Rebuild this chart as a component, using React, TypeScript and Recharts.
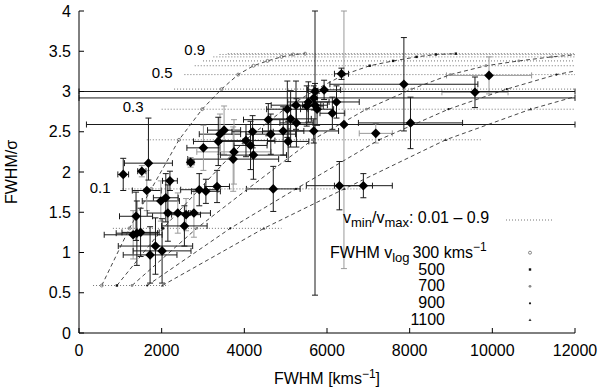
import React from 'react';
import { ComposedChart, Scatter, XAxis, YAxis, ErrorBar, ReferenceLine, ReferenceDot } from 'recharts';

const FONT = '"Liberation Sans", Arial, Helvetica, sans-serif';

// axis ticks
const xTicks = [0, 2000, 4000, 6000, 8000, 10000, 12000];
const yTicks = [0, 0.5, 1, 1.5, 2, 2.5, 3, 3.5, 4];

// FWHM/sigma levels for vmin/vmax steps (0.01 ... 0.9)
const levels = [0.59, 1.30, 1.79, 2.40, 2.78, 3.03, 3.21, 3.32, 3.38, 3.43, 3.46, 3.47];
// FWHM positions of the model markers for each v_log curve
const curve300X = [550, 1220, 1750, 2420, 2980, 3450, 3850, 4220, 4560, 4900, 5180, 5470];
const curve500X = [917, 2033, 2917, 4033, 4967, 5750, 6417, 7033, 7600, 8167, 8633, 9117];
const curve700X = [1283, 2847, 4083, 5647, 6953, 8050, 8983, 9847, 10640, 11433, 12087];
const curve900X = [1650, 3660, 5250, 7260, 8940, 10350, 11550, 12660];
const curve1100X = [2017, 4473, 6417, 8873, 10927, 12650];

// dotted horizontal lines (vmin/vmax levels)
const dottedFrom = [340, 820, 1050, 1640, 2000, 2300, 2550, 2800, 3000, 3250, 3400, 3600];
const dottedTo = [2160, 4900, 6900, 9740, 12000, 12000, 12000, 12000, 12000, 12000, 12000, 12000];

// observed points: black x error / black y error (errors as [minus, plus], cut at the frame)
const pointsBB = [
  { x: 1070, y: 1.97, ex: 130, ey: 0.2 },
  { x: 1680, y: 2.11, ex: 580, ey: [0.21, 0.56] },
  { x: 2200, y: 1.89, ex: 180, ey: 0.12 },
  { x: 2910, y: 1.78, ex: 450, ey: 0.2 },
  { x: 3070, y: 1.76, ex: 350, ey: 0.15 },
  { x: 3340, y: 1.82, ex: 300, ey: 0.2 },
  { x: 2100, y: 1.68, ex: 300, ey: 0.3 },
  { x: 2150, y: 1.49, ex: 500, ey: 0.35 },
  { x: 1380, y: 1.45, ex: 400, ey: 0.3 },
  { x: 2550, y: 1.33, ex: 550, ey: 0.25 },
  { x: 1400, y: 1.24, ex: 500, ey: 0.4 },
  { x: 1490, y: 1.25, ex: 450, ey: 0.3 },
  { x: 1850, y: 1.08, ex: 900, ey: 0.35 },
  { x: 2010, y: 1.02, ex: 700, ey: 0.4 },
  { x: 1720, y: 0.97, ex: 650, ey: 0.35 },
  { x: 4700, y: 1.79, ex: 650, ey: 0.28 },
  { x: 6300, y: 1.83, ex: 800, ey: 0.3 },
  { x: 6880, y: 1.83, ex: 700, ey: 0.15 },
  { x: 6350, y: 3.22, ex: 170, ey: 0.07 },
  { x: 5710, y: 3.0, ex: [5710, 6290], ey: 0.1 },
  { x: 5930, y: 3.02, ex: 400, ey: 0.12 },
  { x: 5680, y: 2.92, ex: [5680, 6320], ey: 0.15 },
  { x: 6230, y: 2.87, ex: 550, ey: 0.2 },
  { x: 5550, y: 2.87, ex: 500, ey: 0.25 },
  { x: 5250, y: 2.83, ex: 600, ey: 0.3 },
  { x: 5040, y: 2.78, ex: 500, ey: 0.35 },
  { x: 5510, y: 2.82, ex: 400, ey: 0.25 },
  { x: 5710, y: 2.83, ex: 300, ey: [2.36, 1.17] },
  { x: 5760, y: 2.78, ex: 400, ey: 0.2 },
  { x: 6130, y: 2.73, ex: 300, ey: 0.2 },
  { x: 4580, y: 2.65, ex: 600, ey: 0.2 },
  { x: 5120, y: 2.66, ex: 500, ey: 0.35 },
  { x: 5260, y: 2.61, ex: 400, ey: 0.3 },
  { x: 5680, y: 2.51, ex: 600, ey: 0.15 },
  { x: 4940, y: 2.51, ex: 500, ey: 0.3 },
  { x: 4640, y: 2.47, ex: 600, ey: 0.25 },
  { x: 4200, y: 2.5, ex: 500, ey: 0.2 },
  { x: 3370, y: 2.38, ex: 600, ey: 0.3 },
  { x: 4040, y: 2.39, ex: 700, ey: 0.2 },
  { x: 4150, y: 2.33, ex: 400, ey: 0.3 },
  { x: 5060, y: 2.38, ex: 500, ey: 0.25 },
  { x: 4220, y: 2.21, ex: 800, ey: 0.3 },
  { x: 7860, y: 3.09, ex: 1790, ey: 0.58 },
  { x: 8020, y: 2.61, ex: 1260, ey: 0.32 },
];
// black x error / grey y error
const pointsBG = [
  { x: 1520, y: 2.01, ex: 100, ey: 0.07 },
  { x: 2700, y: 2.12, ex: 80, ey: 0.06 },
  { x: 3010, y: 2.3, ex: 400, ey: 0.28 },
  { x: 1640, y: 1.77, ex: 350, ey: 0.25 },
  { x: 1980, y: 1.64, ex: 450, ey: 0.25 },
  { x: 2390, y: 1.49, ex: 300, ey: 0.25 },
  { x: 2590, y: 1.47, ex: 350, ey: 0.2 },
  { x: 2780, y: 1.49, ex: 400, ey: 0.3 },
  { x: 1310, y: 1.22, ex: 700, ey: 0.3 },
  { x: 6410, y: 2.59, ex: [6230, 5590], ey: [1.79, 1.41] },
  { x: 3510, y: 2.52, ex: 400, ey: 0.3 },
  { x: 3410, y: 2.47, ex: 500, ey: 0.25 },
  { x: 3730, y: 2.16, ex: 1100, ey: 0.4 },
];
// grey x error / grey y error
const pointsGG = [
  { x: 3750, y: 2.25, ex: 900, ey: 0.4 },
  { x: 9920, y: 3.2, ex: 1030, ey: 0.23 },
  { x: 7180, y: 2.48, ex: 400, ey: 0.12 },
];
// grey x error / black y error
const pointsGB = [{ x: 9580, y: 2.99, ex: 800, ey: 0.19 }];

// curve labels (vmin/vmax)
const curveLabels = [
  { text: '0.9', x: 2548, y: 3.453 },
  { text: '0.5', x: 1759, y: 3.164 },
  { text: '0.3', x: 1057, y: 2.742 },
  { text: '0.1', x: 259, y: 1.735 },
];

const PL = 79, PR = 575, PT = 11, PB = 333;
const BLACK = '#1a1a1a';
const GREY = '#9a9a9a';

const toPts = (xs: number[]) => xs.map((x, i) => ({ x, y: levels[i] }));
const c300 = toPts(curve300X);
const c500 = toPts(curve500X);
const c700 = toPts(curve700X);
const c900 = toPts(curve900X);
const c1100 = toPts(curve1100X);

const Diamond = (p: any) => {
  const { cx, cy } = p;
  const r = 4.8;
  return <polygon points={`${cx},${cy - r} ${cx + r},${cy} ${cx},${cy + r} ${cx - r},${cy}`} fill="#000" />;
};
const M300 = (p: any) => <circle cx={p.cx} cy={p.cy} r={1.5} fill="none" stroke="#777" strokeWidth={0.9} />;
const M500 = (p: any) => <rect x={p.cx - 1.2} y={p.cy - 1.2} width={2.4} height={2.4} fill="#111" />;
const M700 = (p: any) => <circle cx={p.cx} cy={p.cy} r={1.4} fill="#888" />;
const M900 = (p: any) => <circle cx={p.cx} cy={p.cy} r={1.1} fill="#111" />;
const M1100 = (p: any) => (
  <polygon points={`${p.cx},${p.cy - 1.6} ${p.cx + 1.5},${p.cy + 1.1} ${p.cx - 1.5},${p.cy + 1.1}`} fill="#333" />
);

const XTickB = (p: any) => {
  const x = p.payload.coordinate;
  return (
    <g>
      <line x1={x} x2={x} y1={PB} y2={PB - 5} stroke="#000" />
      <text x={x} y={356} textAnchor="middle" fontSize={16} fontFamily={FONT} fill="#000">
        {p.payload.value}
      </text>
    </g>
  );
};
const XTickT = (p: any) => {
  const x = p.payload.coordinate;
  return <line x1={x} x2={x} y1={PT} y2={PT + 5} stroke="#000" />;
};
const YTickL = (p: any) => {
  const y = p.payload.coordinate;
  return (
    <g>
      <line x1={PL} x2={PL + 5} y1={y} y2={y} stroke="#000" />
      <text x={71} y={y + 5.6} textAnchor="end" fontSize={16} fontFamily={FONT} fill="#000">
        {String(p.payload.value)}
      </text>
    </g>
  );
};
const YTickR = (p: any) => {
  const y = p.payload.coordinate;
  return <line x1={PR} x2={PR - 5} y1={y} y2={y} stroke="#000" />;
};

const errBars = (xc: string, yc: string) => [
  <ErrorBar key="ex" dataKey="ex" direction="x" width={3} stroke={xc} strokeWidth={1} isAnimationActive={false} />,
  <ErrorBar key="ey" dataKey="ey" direction="y" width={3} stroke={yc} strokeWidth={1} isAnimationActive={false} />,
];

const curveLine = { stroke: '#333', strokeWidth: 0.9, strokeDasharray: '4 3' };

export default function App() {
  const legendMarkers = [M300, M500, M700, M900, M1100];
  const legendY = [252.7, 269.5, 286.3, 303.3, 320];
  return (
    <div style={{ position: 'absolute', left: 0, top: 0, width: 600, height: 387, background: '#fff' }}>
      <ComposedChart width={600} height={387} margin={{ top: PT, right: 25, bottom: 0, left: 0 }}>
        <XAxis
          type="number"
          dataKey="x"
          domain={[0, 12000]}
          ticks={xTicks}
          interval={0}
          allowDataOverflow
          height={54}
          tickSize={0}
          tickMargin={0}
          tickLine={false}
          tick={XTickB}
          axisLine={{ stroke: '#000' }}
        />
        <XAxis
          xAxisId="top"
          orientation="top"
          type="number"
          dataKey="x"
          domain={[0, 12000]}
          ticks={xTicks}
          interval={0}
          allowDataOverflow
          height={0}
          tickSize={0}
          tickLine={false}
          tick={XTickT}
          axisLine={{ stroke: '#000' }}
        />
        <YAxis
          type="number"
          dataKey="y"
          domain={[0, 4]}
          ticks={yTicks}
          interval={0}
          allowDataOverflow
          width={PL}
          tickSize={0}
          tickMargin={0}
          tickLine={false}
          tick={YTickL}
          axisLine={{ stroke: '#000' }}
        />
        <YAxis
          yAxisId="right"
          orientation="right"
          type="number"
          dataKey="y"
          domain={[0, 4]}
          ticks={yTicks}
          interval={0}
          allowDataOverflow
          width={0}
          tickSize={0}
          tickLine={false}
          tick={YTickR}
          axisLine={{ stroke: '#000' }}
        />

        {levels.map((lv, i) => (
          <ReferenceLine
            key={'d' + i}
            segment={[
              { x: dottedFrom[i], y: lv },
              { x: dottedTo[i], y: lv },
            ]}
            stroke="#666"
            strokeWidth={0.9}
            strokeDasharray="1 2"
          />
        ))}

        <Scatter data={c300} line={curveLine} lineType="joint" shape={M300} isAnimationActive={false} />
        <Scatter data={c500} line={curveLine} lineType="joint" shape={M500} isAnimationActive={false} />
        <Scatter data={c700} line={curveLine} lineType="joint" shape={M700} isAnimationActive={false} />
        <Scatter data={c900} line={curveLine} lineType="joint" shape={M900} isAnimationActive={false} />
        <Scatter data={c1100} line={curveLine} lineType="joint" shape={M1100} isAnimationActive={false} />

        <Scatter data={pointsBG} shape={Diamond} isAnimationActive={false}>
          {errBars(BLACK, GREY)}
        </Scatter>
        <Scatter data={pointsGG} shape={Diamond} isAnimationActive={false}>
          {errBars(GREY, GREY)}
        </Scatter>
        <Scatter data={pointsGB} shape={Diamond} isAnimationActive={false}>
          {errBars(GREY, BLACK)}
        </Scatter>
        <Scatter data={pointsBB} shape={Diamond} isAnimationActive={false}>
          {errBars(BLACK, BLACK)}
        </Scatter>

        {curveLabels.map((c) => (
          <ReferenceDot
            key={c.text}
            x={c.x}
            y={c.y}
            r={0}
            shape={(p: any) => (
              <text x={p.cx} y={p.cy} fontSize={15} fontFamily={FONT} fill="#000">
                {c.text}
              </text>
            )}
          />
        ))}
      </ComposedChart>

      <svg
        width={600}
        height={387}
        style={{ position: 'absolute', left: 0, top: 0, pointerEvents: 'none' }}
        fontFamily={FONT}
      >
        <text transform="translate(17,172) rotate(-90)" textAnchor="middle" fontSize={16} fill="#000">
          FWHM/σ
        </text>
        <text x={327} y={384} textAnchor="middle" fontSize={16} fill="#000">
          FWHM [kms
          <tspan dy={-6} fontSize={12}>
            −1
          </tspan>
          <tspan dy={6}>]</tspan>
        </text>

        <text x={343} y={223} fontSize={16} fill="#000">
          v
          <tspan dy={4} fontSize={13}>
            min
          </tspan>
          <tspan dy={-4}>/v</tspan>
          <tspan dy={4} fontSize={13}>
            max
          </tspan>
          <tspan dy={-4}>: 0.01 – 0.9</tspan>
        </text>
        <line x1={506} x2={552} y1={220} y2={220} stroke="#666" strokeWidth={0.9} strokeDasharray="1 2" />

        <text x={330} y={258} fontSize={16} fill="#000">
          FWHM v
          <tspan dy={4} fontSize={13}>
            log
          </tspan>
          <tspan dy={-4} dx={3}>
            300 kms
          </tspan>
          <tspan dy={-7} fontSize={12}>
            −1
          </tspan>
        </text>
        <text x={445} y={274.5} textAnchor="end" fontSize={16} fill="#000">500</text>
        <text x={445} y={291.3} textAnchor="end" fontSize={16} fill="#000">700</text>
        <text x={445} y={308} textAnchor="end" fontSize={16} fill="#000">900</text>
        <text x={445} y={325} textAnchor="end" fontSize={16} fill="#000">1100</text>
        {legendMarkers.map((M, i) => (
          <g key={i}>{M({ cx: 530, cy: legendY[i] })}</g>
        ))}
      </svg>
    </div>
  );
}
